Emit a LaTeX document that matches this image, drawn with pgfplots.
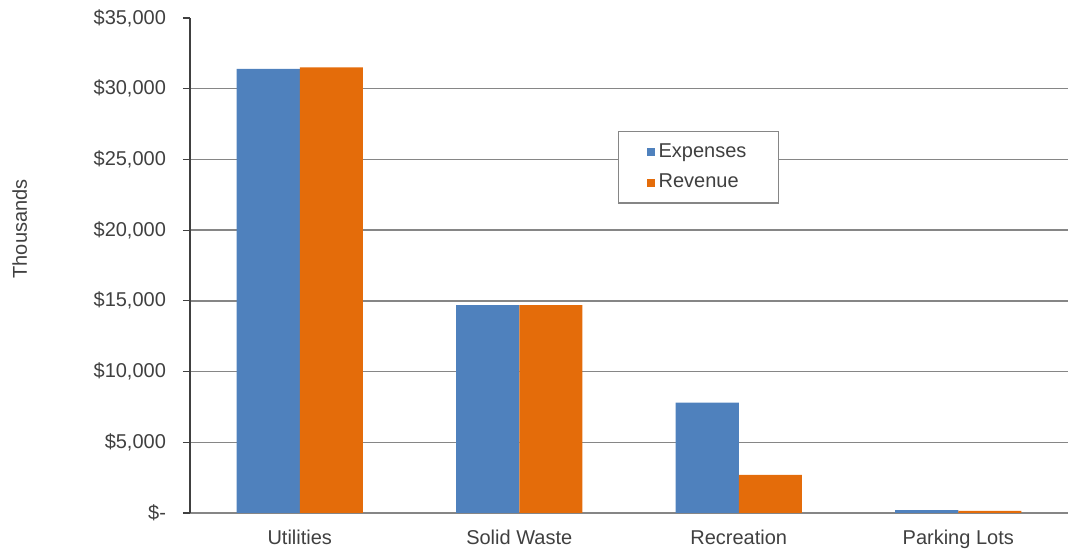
\documentclass[border=0pt]{standalone}
\usepackage{fontspec}
\setmainfont{Liberation Sans}
\usepackage{pgfplots}
\pgfplotsset{compat=1.18}
\definecolor{expblue}{HTML}{4F81BD}
\definecolor{revorange}{HTML}{E46C0A}
\definecolor{gridgray}{HTML}{868686}
\definecolor{txt}{HTML}{404040}
\newcommand\topticklabel{\$35,000}
\begin{document}
\begin{tikzpicture}
\begin{axis}[
  name=ax,
  scale only axis,
  width=439pt, height=247.5pt,
  xmin=-0.5, xmax=3.5,
  ymin=0, ymax=35000,
  axis lines=left,
  axis line style={-, gridgray, line width=0.75pt},
  y axis line style={black!75},
  ybar,
  bar width=0.288,
  xtick={0,1,2,3},
  xticklabels={Utilities, Solid Waste, Recreation, Parking Lots},
  major x tick style={draw=none},
  scaled y ticks=false,
  ytick={0,5000,10000,15000,20000,25000,30000},
  yticklabels={{\$-},{\$5,000},{\$10,000},{\$15,000},{\$20,000},{\$25,000},{\$30,000}},
  extra y ticks={35000},
  extra y tick labels={\topticklabel},
  extra y tick style={grid=none},
  tick align=outside,
  major tick length=3.5pt,
  y tick style={black!75, line width=0.6pt},
  ymajorgrids,
  grid style={gridgray, line width=0.75pt},
  tick label style={font=\fontsize{10}{11}\selectfont, text=txt},
  yticklabel style={xshift=-5pt},
  xticklabel style={yshift=-1.5pt},
  ylabel={Thousands},
  ylabel style={font=\fontsize{10}{11}\selectfont, text=txt, at={(axis description cs:-0.194,0.574)}, anchor=center},
  legend style={at={(axis description cs:0.4875,0.772)}, anchor=north west,
    draw=gridgray, line width=0.6pt, font=\fontsize{10}{11}\selectfont, text=txt,
    inner xsep=14pt, inner ysep=4pt, row sep=3pt},
  legend cell align=left,
  legend image code/.code={\fill[#1] (0pt,-2pt) rectangle (4pt,2pt);},
]
\addplot[fill=expblue, draw=none, bar shift=-0.144] coordinates {(0,31400) (1,14700) (2,7800) (3,200)};
\addplot[fill=revorange, draw=none, bar shift=0.144] coordinates {(0,31500) (1,14700) (2,2700) (3,150)};
\legend{Expenses, Revenue}
\end{axis}
\pgfresetboundingbox
\path ([xshift=-95pt,yshift=-18.5pt]ax.south west) rectangle ([yshift=9pt]ax.north east);
\end{tikzpicture}
\end{document}
